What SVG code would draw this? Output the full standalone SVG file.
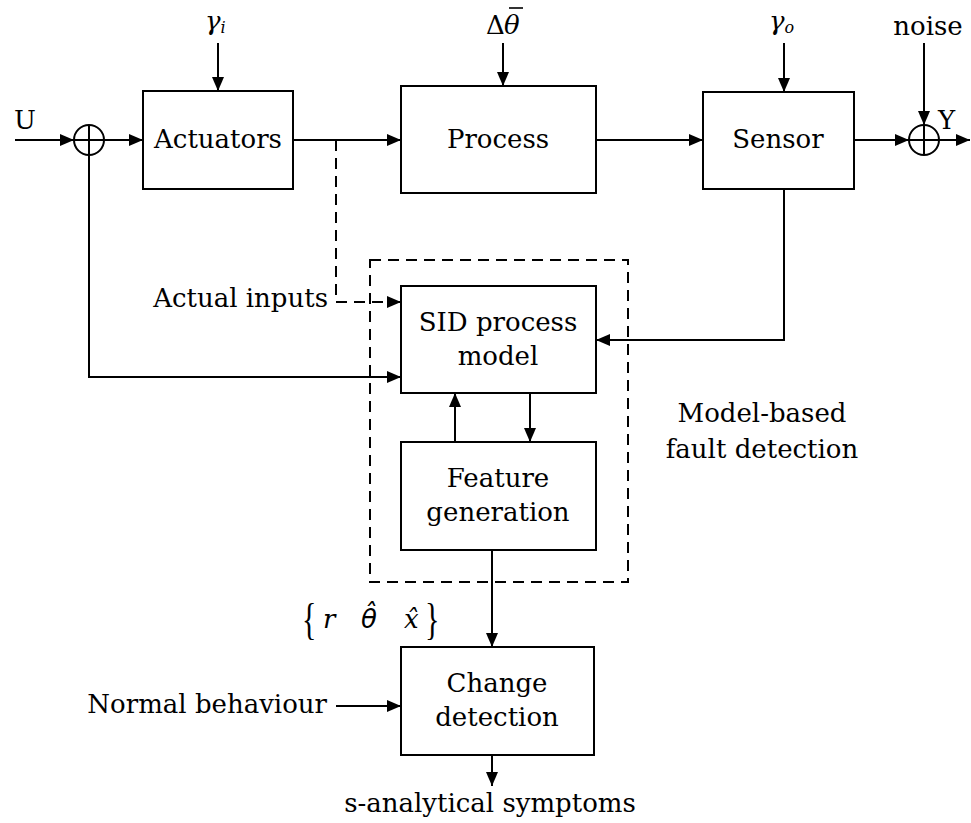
<svg xmlns="http://www.w3.org/2000/svg" width="971" height="823" viewBox="0 0 971 823">
  <defs>
    <marker id="arr" viewBox="0 0 14 12" refX="14" refY="6" markerWidth="14" markerHeight="12" markerUnits="userSpaceOnUse" orient="auto">
      <path d="M0,0 L14,6 L0,12 Z" fill="#000"/>
    </marker>
    <style>
      .box { fill: #fff; stroke: #000; stroke-width: 2; }
      .ln { fill: none; stroke: #000; stroke-width: 2; }
      .dash { fill: none; stroke: #000; stroke-width: 2; stroke-dasharray: 11 7; }
      .t { font-family: "DejaVu Serif", "Liberation Serif", serif; font-size: 26px; fill: #000; }
      .m { font-family: "DejaVu Serif", "Liberation Serif", serif; font-style: italic; font-size: 26px; fill: #000; }
      .ms { font-family: "DejaVu Sans", "Liberation Sans", sans-serif; font-style: italic; font-size: 26px; fill: #000; }
      .br { font-family: "Liberation Serif", "Times New Roman", serif; font-size: 30px; fill: #000; }
      .c { text-anchor: middle; }
    </style>
  </defs>
  <rect width="971" height="823" fill="#fff"/>

  <!-- fault detection boundary -->
  <rect x="370" y="260" width="258" height="322" class="dash"/>

  <g id="connectors">
    <line x1="15" y1="140" x2="74" y2="140" class="ln" marker-end="url(#arr)"/>
    <line x1="104" y1="140" x2="143" y2="140" class="ln" marker-end="url(#arr)"/>
    <line x1="218" y1="43" x2="218" y2="91" class="ln" marker-end="url(#arr)"/>
    <line x1="293" y1="140" x2="401" y2="140" class="ln" marker-end="url(#arr)"/>
    <line x1="503" y1="43" x2="503" y2="86" class="ln" marker-end="url(#arr)"/>
    <line x1="596" y1="140" x2="703" y2="140" class="ln" marker-end="url(#arr)"/>
    <line x1="784" y1="43" x2="784" y2="92" class="ln" marker-end="url(#arr)"/>
    <line x1="854" y1="140" x2="909" y2="140" class="ln" marker-end="url(#arr)"/>
    <line x1="924" y1="43" x2="924" y2="125" class="ln" marker-end="url(#arr)"/>
    <line x1="939" y1="140" x2="970" y2="140" class="ln" marker-end="url(#arr)"/>
    <path d="M336,140 V302 H401" class="dash" marker-end="url(#arr)"/>
    <path d="M89,155 V377 H401" class="ln" marker-end="url(#arr)"/>
    <path d="M784,189 V340 H596" class="ln" marker-end="url(#arr)"/>
    <line x1="455" y1="442" x2="455" y2="393" class="ln" marker-end="url(#arr)"/>
    <line x1="530" y1="393" x2="530" y2="442" class="ln" marker-end="url(#arr)"/>
    <line x1="492" y1="550" x2="492" y2="647" class="ln" marker-end="url(#arr)"/>
    <line x1="336" y1="706" x2="401" y2="706" class="ln" marker-end="url(#arr)"/>
    <line x1="492" y1="755" x2="492" y2="786" class="ln" marker-end="url(#arr)"/>
  </g>

  <g id="sum-in">
    <circle cx="89" cy="140" r="15" class="box"/>
    <path d="M74,140 H104 M89,125 V155" class="ln"/>
  </g>
  <g id="sum-out">
    <circle cx="924" cy="140" r="15" class="box"/>
    <path d="M909,140 H939 M924,125 V155" class="ln"/>
  </g>

  <g id="actuators">
    <rect x="143" y="91" width="150" height="98" class="box"/>
    <text x="218" y="148" class="t c">Actuators</text>
  </g>
  <g id="process">
    <rect x="401" y="86" width="195" height="107" class="box"/>
    <text x="498" y="148" class="t c">Process</text>
  </g>
  <g id="sensor">
    <rect x="703" y="92" width="151" height="97" class="box"/>
    <text x="778" y="148" class="t c">Sensor</text>
  </g>
  <g id="sid-model">
    <rect x="401" y="286" width="195" height="107" class="box"/>
    <text x="498" y="331" class="t c">SID process</text>
    <text x="498" y="365" class="t c">model</text>
  </g>
  <g id="feature-gen">
    <rect x="401" y="442" width="195" height="108" class="box"/>
    <text x="498" y="487" class="t c">Feature</text>
    <text x="498" y="521" class="t c">generation</text>
  </g>
  <g id="change-det">
    <rect x="401" y="647" width="193" height="108" class="box"/>
    <text x="497" y="692" class="t c">Change</text>
    <text x="497" y="726" class="t c">detection</text>
  </g>

  <!-- labels -->
  <text x="14" y="129" class="t">U</text>
  <text x="938" y="129" class="t">Y</text>
  <text x="928" y="35" class="t c">noise</text>
  <text x="205" y="30" class="m">γ<tspan font-size="16" dy="3">i</tspan></text>
  <text x="769" y="30" class="m">γ<tspan font-size="16" dy="3">o</tspan></text>
  <text x="486" y="34" class="t">Δ</text>
  <text x="504" y="34" class="m">θ</text>
  <line x1="509" y1="8" x2="523" y2="8" stroke="#000" stroke-width="1.6"/>
  <text x="328" y="307" class="t" text-anchor="end">Actual inputs</text>
  <text x="762" y="422" class="t c">Model-based</text>
  <text x="762" y="458" class="t c">fault detection</text>
  <text x="327" y="713" class="t" text-anchor="end">Normal behaviour</text>
  <text x="490" y="812" class="t c">s-analytical symptoms</text>

  <g id="feature-set">
    <text class="br" transform="translate(302,634) scale(1,1.45)">{</text>
    <text x="323" y="628" class="m">r</text>
    <text x="361" y="628" class="ms">θ̂</text>
    <text x="404" y="628" class="m">x̂</text>
    <text class="br" transform="translate(425,634) scale(1,1.45)">}</text>
  </g>
</svg>
